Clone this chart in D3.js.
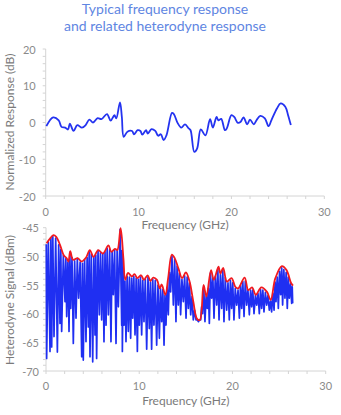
<!DOCTYPE html>
<html>
<head>
<meta charset="utf-8">
<script src="https://cdn.jsdelivr.net/npm/d3@7"></script>
<style>
  html, body { margin: 0; padding: 0; background: #ffffff; }
  svg { display: block; font-family: Lato, "Open Sans", sans-serif; }
</style>
</head>
<body>
<svg id="chart" width="341" height="415"></svg>
<script>
// Normalized frequency response (GHz, dB)
const respFreq = [0.07,0.8,1.4,1.7,2.1,2.4,2.6,3.0,3.4,3.9,4.3,4.7,5.1,5.6,6.0,6.6,7.0,7.4,7.6,8.0,8.2,8.4,8.8,9.3,9.5,9.9,10.2,10.4,10.8,11.0,11.4,11.8,12.1,12.4,12.7,13.0,13.6,13.8,14.2,14.6,15.0,15.4,15.6,16.0,16.3,16.7,17.2,17.7,18.0,18.4,18.6,18.9,19.3,19.5,20.0,20.3,20.7,21.0,21.3,21.7,22.0,22.4,22.7,23.1,23.6,24.0,24.3,24.9,25.3,25.8,26.1,26.4];
const respDb = [-1.0,1.4,0.6,-1.2,-1.4,-1.9,-0.3,-2.3,-0.7,-1.4,-0.7,0.8,0,1.2,0.9,2.3,0.5,2.0,1.1,5.5,1.5,-3.9,-2.5,-2.3,-3.2,-2.1,-2.3,-3.3,-2.1,-3.0,-1.8,-2.3,-3.6,-3.2,-4.8,-3.5,2.6,2.3,-0.1,-1.4,-0.5,-1.6,-2.1,-8.0,-7.1,-1.9,-3.5,0.9,-1.4,1.5,0.6,1.0,-2.1,-1.6,2.0,1.5,-0.1,0.2,1.4,-0.5,0.8,-0.5,0.6,1.8,1.1,-1.0,0.6,3.8,5.2,4.3,2.0,-0.7];

// Heterodyne envelope (GHz, dBm)
const envFreq = [0.07,0.43,0.8,1.1,1.5,1.9,2.2,2.4,2.6,2.9,3.4,3.8,4.3,4.7,5.1,5.6,6.1,6.7,7.0,7.4,7.65,8.0,8.3,8.5,8.8,9.2,9.5,9.8,10.2,10.5,10.9,11.2,11.5,11.9,12.2,12.4,12.8,13.1,13.5,13.8,14.2,14.6,15.0,15.4,15.8,16.2,16.5,16.9,17.2,17.7,18.0,18.5,18.7,19.0,19.4,19.9,20.3,20.6,21.3,21.7,22.1,22.5,23.1,23.7,24.1,24.6,25.3,25.8,26.3,26.5];
const envDbm = [-47.7,-46.9,-46.3,-46.6,-48.0,-49.8,-50.3,-50.9,-49.1,-50.6,-50.3,-50.9,-50.2,-48.9,-50.1,-48.9,-49.5,-48.1,-49.2,-48.7,-48.9,-45.1,-50.3,-54.1,-52.9,-53.5,-53.1,-53.8,-53.3,-54.1,-53.3,-54.3,-53.7,-54.1,-55.6,-54.9,-56.7,-53.8,-49.7,-50.3,-52.1,-53.8,-52.8,-54.4,-57.9,-60.9,-61.1,-55.0,-57.0,-52.4,-54.1,-51.8,-53.0,-52.0,-54.4,-53.8,-55.3,-55.6,-53.7,-55.9,-55.4,-56.7,-55.4,-56.2,-57.6,-53.8,-51.7,-52.4,-54.7,-55.1];

// Heterodyne signal minima (GHz, dBm)
const sigLowFreq = [0.07,0.43,0.61,0.86,1.22,1.50,1.68,2.04,2.22,2.47,2.65,2.93,3.22,3.50,3.83,4.00,4.29,4.54,4.72,5.01,5.26,5.43,5.72,5.97,6.22,6.44,6.69,6.97,7.22,7.51,7.76,8.12,8.19,8.37,8.58,8.83,9.08,9.30,9.55,9.80,10.01,10.26,10.51,10.80,11.08,11.33,11.58,11.87,12.16,12.41,12.66,12.87,13.12,13.37,13.66,13.94,14.19,14.44,14.73,15.02,15.27,15.52,15.80,16.09,16.34,16.59,16.80,17.05,17.30,17.52,17.77,18.02,18.31,18.56,18.84,19.09,19.38,19.66,19.91,20.16,20.45,20.74,20.99,21.24,21.52,21.81,22.06,22.31,22.60,22.88,23.13,23.38,23.67,23.95,24.20,24.46,24.67,24.92,25.17,25.38,25.63,25.88,26.10,26.35,26.46];
const sigLowDbm = [-67.8,-66.6,-65.8,-64.0,-66.7,-61.7,-63.1,-57.9,-60.5,-63.1,-59.1,-65.2,-60.8,-57.3,-67.5,-68.1,-64.9,-62.3,-67.5,-68.4,-63.7,-67.8,-60.2,-61.1,-64.9,-62.0,-60.2,-64.9,-56.7,-65.2,-58.8,-62.0,-66.6,-62.0,-64.9,-63.1,-64.3,-60.8,-63.7,-66.6,-62.0,-63.7,-61.4,-66.2,-62.6,-66.2,-62.0,-65.5,-64.3,-61.4,-65.5,-62.0,-60.2,-56.2,-58.5,-61.4,-58.5,-60.2,-57.9,-60.8,-59.1,-60.2,-61.1,-61.1,-61.4,-61.1,-60.0,-61.4,-59.1,-61.7,-57.3,-60.8,-58.5,-61.1,-59.1,-61.4,-59.4,-61.1,-59.1,-61.1,-58.5,-60.8,-59.1,-60.5,-58.5,-60.2,-58.8,-60.0,-58.5,-60.0,-59.1,-59.7,-58.5,-59.4,-59.7,-59.4,-57.9,-59.1,-56.7,-58.5,-57.3,-59.1,-57.3,-58.2,-58.2];

// Heterodyne signal maxima (GHz, dBm)
const sigHighFreq = [0.03,0.25,0.52,0.73,1.04,1.36,1.59,1.86,2.13,2.35,2.56,2.79,3.07,3.36,3.66,3.91,4.14,4.41,4.63,4.86,5.13,5.34,5.58,5.84,6.09,6.33,6.56,6.83,7.09,7.36,7.63,7.95,8.16,8.28,8.47,8.70,8.95,9.19,9.42,9.67,9.90,10.13,10.38,10.65,10.94,11.20,11.45,11.72,12.01,12.28,12.53,12.76,12.99,13.24,13.51,13.80,14.06,14.31,14.58,14.87,15.14,15.39,15.66,15.94,16.21,16.46,16.69,16.92,17.17,17.41,17.64,17.90,18.16,18.43,18.70,18.96,19.23,19.52,19.78,20.03,20.30,20.60,20.86,21.11,21.38,21.66,21.94,22.18,22.46,22.74,23.01,23.26,23.53,23.81,24.08,24.33,24.57,24.80,25.05,25.28,25.51,25.76,25.99,26.23,26.41];
const sigHighDbm = [-47.9,-47.5,-46.8,-46.5,-46.8,-48.0,-48.8,-49.8,-50.4,-51.0,-49.3,-50.2,-50.8,-50.4,-51.0,-51.2,-50.6,-50.2,-49.2,-49.6,-50.2,-49.8,-49.0,-49.4,-49.6,-49.2,-48.6,-48.8,-49.3,-48.8,-49.0,-45.3,-49.0,-52.0,-54.3,-53.5,-53.6,-53.8,-53.5,-53.8,-54.0,-53.6,-54.2,-54.0,-53.6,-54.5,-54.0,-54.2,-55.0,-55.6,-55.8,-56.8,-55.4,-52.8,-49.9,-50.5,-51.7,-52.9,-54.0,-53.4,-53.6,-54.6,-57.0,-59.4,-61.0,-61.1,-58.8,-55.3,-57.0,-55.6,-52.9,-53.8,-53.5,-52.1,-53.2,-52.3,-53.7,-54.6,-54.2,-54.6,-55.6,-55.9,-55.1,-54.4,-54.3,-55.9,-55.9,-55.9,-56.8,-56.5,-55.8,-55.9,-56.3,-56.8,-57.8,-56.4,-54.5,-53.6,-52.6,-52.0,-52.3,-52.8,-53.6,-54.8,-55.3];

// Axis ticks
const freqTicks = [0, 10, 20, 30];
const respTicks = [-20, -10, 0, 10, 20];
const sigTicks = [-70, -65, -60, -55, -50, -45];

const svg = d3.select("#chart");
const axisColor = "#d4d4d4";
const labelColor = "#8a8a8a";
const titleColor = "#7a7a7a";

// Title
const title = svg.append("text")
  .attr("text-anchor", "middle")
  .attr("fill", "#5f86e2").attr("font-size", 14);
title.append("tspan").attr("x", 165).attr("y", 14).text("Typical frequency response");
title.append("tspan").attr("x", 165).attr("y", 31).text("and related heterodyne response");

function drawFrame(x, y, yTicks, yMinorStep, yTitle, yTitleCy, labelGap, xLabelY, xTitleY) {
  const g = svg.append("g");
  const [x0, x1] = x.range();
  const [yb, yt] = y.range();
  // axis lines
  g.append("line").attr("x1", x0).attr("x2", x1).attr("y1", yb).attr("y2", yb)
    .attr("stroke", axisColor).attr("stroke-width", 1);
  g.append("line").attr("x1", x0).attr("x2", x0).attr("y1", yb).attr("y2", yt)
    .attr("stroke", axisColor).attr("stroke-width", 1);
  // minor ticks
  const xMinor = d3.range(0, 30.01, 2);
  g.selectAll(null).data(xMinor).join("line")
    .attr("x1", d => x(d)).attr("x2", d => x(d))
    .attr("y1", yb).attr("y2", yb + 3)
    .attr("stroke", axisColor);
  const [ylo, yhi] = y.domain();
  const yMinor = d3.range(ylo, yhi + 0.01, yMinorStep);
  g.selectAll(null).data(yMinor).join("line")
    .attr("x1", x0 - 3).attr("x2", x0)
    .attr("y1", d => y(d)).attr("y2", d => y(d))
    .attr("stroke", axisColor);
  // labels
  g.selectAll(null).data(freqTicks).join("text")
    .attr("x", d => x(d)).attr("y", xLabelY)
    .attr("text-anchor", "middle").attr("dominant-baseline", "central")
    .attr("font-size", 11).attr("fill", labelColor).text(d => d);
  g.selectAll(null).data(yTicks).join("text")
    .attr("x", x0 - labelGap).attr("y", d => y(d))
    .attr("text-anchor", "end").attr("dominant-baseline", "central")
    .attr("font-size", 11).attr("fill", labelColor).text(d => d);
  g.append("text").attr("x", (x0 + x1) / 2).attr("y", xTitleY)
    .attr("text-anchor", "middle").attr("dominant-baseline", "central")
    .attr("font-size", 12).attr("fill", titleColor).text("Frequency (GHz)");
  g.append("text")
    .attr("transform", `translate(9,${yTitleCy}) rotate(-90)`)
    .attr("text-anchor", "middle").attr("dominant-baseline", "central")
    .attr("font-size", 12).attr("fill", titleColor).text(yTitle);
}

// Top: normalized response
const x1s = d3.scaleLinear().domain([0, 30]).range([45.7, 324.3]);
const y1s = d3.scaleLinear().domain([-20, 20]).range([196, 49]);
drawFrame(x1s, y1s, respTicks, 2, "Normalized Response (dB)", 122, 10, 211, 224);

const respLine = d3.line().x(d => x1s(d[0])).y(d => y1s(d[1])).curve(d3.curveCatmullRom.alpha(0.5));
svg.append("path")
  .datum(d3.zip(respFreq, respDb))
  .attr("d", respLine)
  .attr("fill", "none").attr("stroke", "#2433f0").attr("stroke-width", 1.8)
  .attr("stroke-linejoin", "round");

// Bottom: heterodyne signal
const x2s = d3.scaleLinear().domain([0, 30]).range([46, 325.7]);
const y2s = d3.scaleLinear().domain([-70, -45]).range([371, 227.7]);
drawFrame(x2s, y2s, sigTicks, 1, "Heterodyne Signal (dBm)", 300, 7, 385, 400);

const sigPts = d3.zip(sigHighFreq, sigHighDbm).concat(d3.zip(sigLowFreq, sigLowDbm))
  .sort((a, b) => a[0] - b[0]);
const sigLine = d3.line().x(d => x2s(d[0])).y(d => y2s(d[1]));
svg.append("path")
  .datum(sigPts)
  .attr("d", sigLine)
  .attr("fill", "none").attr("stroke", "#1f2ff2").attr("stroke-width", 1.7)
  .attr("stroke-linejoin", "round");

const envLine = d3.line().x(d => x2s(d[0])).y(d => y2s(d[1])).curve(d3.curveCatmullRom.alpha(0.5));
svg.append("path")
  .datum(d3.zip(envFreq, envDbm))
  .attr("d", envLine)
  .attr("fill", "none").attr("stroke", "#f01a20").attr("stroke-width", 1.8)
  .attr("stroke-linejoin", "round");
</script>
</body>
</html>
